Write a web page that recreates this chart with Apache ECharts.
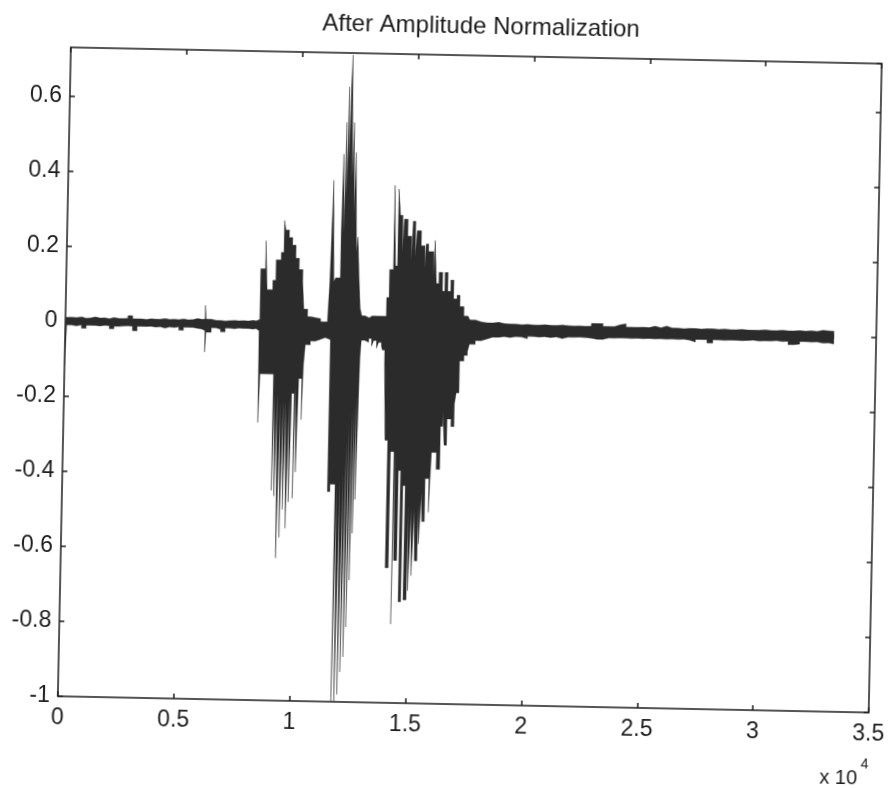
<!DOCTYPE html>
<html><head><meta charset="utf-8">
<script src="https://cdn.jsdelivr.net/npm/echarts@6/dist/echarts.min.js"></script>
<style>
html,body{margin:0;padding:0;background:#fff;overflow:hidden}
#chart{width:894px;height:788px;transform:rotate(1.15deg);transform-origin:50% 50%}
</style>
</head><body><div id="chart"></div>
<script>
// ---- data: sample index where each envelope column starts, and its max / min ----
const titleText = 'After Amplitude Normalization';
const xMin = 0, xMax = 35000, xStep = 5000, xExponent = 4;
const yMin = -1, yMax = 0.73, yStep = 0.2;
const signalLength = 33180;

const upperStart = [
  0,60,270,480,700,900,1100,1300,1500,1700,1900,2100,2300,2500,2700,2900,3100,3300,3500,3700,3900,
  4100,4300,4500,4700,4900,5100,5300,5500,5700,5900,6030,6075,6300,6500,6700,6900,7100,7300,7500,7700,7900,8100,
  8237,8387,8592,8677,8920,9048,9262,9373,9441,9590,9740,9889,10043,10205,10277,10444,10585,11011,
  11310,11378,11464,11549,11630,11827,11874,11950,11976,12036,12061,12121,12147,12189,12253,12309,12360,12411,
  12497,12556,12620,12663,12706,
  12783,12932,13103,13231,13316,13444,13530,13658,
  13700,13845,13948,14110,14195,14285,14370,14477,14545,14703,14874,14929,15036,15109,15288,15450,15506,15612,
  15834,15890,15975,16086,16240,16346,16474,16603,16731,16880,17008,17187,
  17371,17450,17700,17950,18200,18450,18700,18950,19200,19450,19700,19950,20200,20450,20700,20950,21200,21450,
  21700,21950,22200,22450,22700,22950,23200,23450,23700,23950,24200,24450,24700,24950,25200,25450,25700,25950,
  26200,26450,26700,26950,27200,27450,27700,27950,28200,28450,28700,28950,29200,29450,29700,29950,30200,30450,
  30700,30950,31200,31450,31700,31950,32200,32450,32700,32950
];
const upperVal = [
  .01,.011,.01,.012,.009,.01,.013,.01,.011,.009,.012,.01,.01,.011,.018,.01,.01,.009,.011,.01,.01,
  .012,.01,.011,.01,.012,.01,.011,.014,.012,.013,.05,.013,.01,.01,.009,.01,.011,.01,.011,.01,.012,.011,
  .015,.15,.225,.095,.12,.175,.195,.28,.255,.235,.215,.18,.15,.12,.045,.025,.02,.012,
  .02,.12,.39,.12,.13,.25,.46,.25,.545,.35,.64,.45,.64,.725,.40,.545,.30,.465,
  .20,.24,.15,.10,.05,
  .03,.025,.03,.025,.03,.028,.03,.035,
  .03,.08,.155,.38,.165,.37,.30,.20,.29,.245,.175,.285,.19,.26,.22,.16,.225,.205,
  .14,.235,.12,.15,.10,.15,.10,.13,.08,.09,.06,.035,
  .03,.025,.02,.018,.018,.02,.017,.016,.016,.015,.016,.015,.015,.016,.015,.015,.016,.015,
  .014,.015,.014,.015,.022,.022,.015,.015,.02,.023,.014,.014,.015,.014,.018,.014,.019,.014,
  .014,.013,.014,.014,.013,.014,.014,.013,.014,.013,.013,.014,.013,.013,.013,.014,.013,.013,
  .014,.013,.013,.014,.013,.014,.013,.016,.015,.014
];
const lowerStart = [
  0,60,270,480,700,900,1100,1300,1500,1700,1900,2100,2300,2500,2700,2900,3100,3300,3500,3700,3900,
  4100,4300,4500,4700,4900,5100,5300,5500,5700,5900,6030,6075,6300,6500,6700,6900,7100,7300,7500,7700,7900,8100,
  8237,8365,8387,8442,9027,9091,9142,9202,9270,9338,9398,9458,9518,9577,9654,9722,9765,9825,9936,9996,
  10051,10115,10252,10312,10371,10585,10798,11011,11225,
  11310,11451,11558,11780,11848,11908,11985,12031,12108,12142,12220,12258,12335,12360,12437,12463,12531,12556,
  12620,12646,12697,12740,
  12783,12932,13103,13231,13316,13444,13530,13658,
  13700,13807,13892,14012,14140,14294,14336,14368,14496,14597,14703,14808,14936,14991,15077,15128,15213,15264,
  15371,15420,15506,15550,15657,15822,15907,16125,16274,16368,16445,16551,16726,16854,16923,17042,17226,
  17371,17450,17700,17950,18200,18450,18700,18950,19200,19450,19700,19950,20200,20450,20700,20950,21200,21450,
  21700,21950,22200,22450,22700,22950,23200,23450,23700,23950,24200,24450,24700,24950,25200,25450,25700,25950,
  26200,26450,26700,26950,27200,27450,27700,27950,28200,28450,28700,28950,29200,29450,29700,29950,30200,30450,
  30700,30950,31200,31450,31700,31950,32200,32450,32700,32950
];
const lowerVal = [
  -.12,-.01,-.012,-.009,-.018,-.01,-.01,-.011,-.009,-.01,-.018,-.011,-.01,-.009,-.01,-.022,-.01,-.01,-.009,-.011,-.01,
  -.013,-.01,-.011,-.009,-.018,-.01,-.01,-.012,-.014,-.018,-.075,-.022,-.01,-.013,-.02,-.01,-.011,-.009,-.01,-.01,-.011,-.01,
  -.015,-.02,-.26,-.13,-.44,-.18,-.455,-.18,-.62,-.20,-.565,-.20,-.49,-.20,-.54,-.19,-.47,-.18,-.46,-.16,
  -.39,-.14,-.25,-.10,-.05,-.04,-.035,-.03,-.035,
  -.035,-.44,-.42,-1.0,-.42,-1.0,-.40,-.98,-.38,-.92,-.30,-.88,-.25,-.80,-.22,-.675,-.20,-.55,
  -.18,-.46,-.25,-.08,
  -.035,-.04,-.03,-.05,-.035,-.055,-.04,-.05,
  -.06,-.095,-.30,-.64,-.33,-.79,-.33,-.62,-.38,-.73,-.42,-.725,-.47,-.70,-.48,-.66,-.48,-.62,
  -.47,-.575,-.44,-.515,-.40,-.49,-.33,-.375,-.26,-.22,-.31,-.24,-.26,-.20,-.17,-.085,-.07,
  -.06,-.04,-.03,-.025,-.02,-.02,-.018,-.02,-.017,-.018,-.022,-.016,-.017,-.016,-.018,-.016,-.02,-.016,
  -.016,-.015,-.016,-.017,-.02,-.02,-.016,-.016,-.015,-.015,-.016,-.015,-.016,-.015,-.016,-.015,-.016,-.015,
  -.016,-.015,-.017,-.022,-.015,-.015,-.024,-.015,-.016,-.015,-.015,-.016,-.015,-.014,-.016,-.015,-.015,-.014,
  -.016,-.015,-.024,-.022,-.015,-.016,-.015,-.018,-.017,-.02
];

// ---- build series data (step envelopes) ----
function envelope(starts, vals) {
  const pts = starts.map((s, i) => [s, vals[i]]);
  pts.push([signalLength, vals[vals.length - 1]]);
  return pts;
}
const upperData = envelope(upperStart, upperVal);
const lowerData = envelope(lowerStart, lowerVal);

const ink = '#1c1c1c';
const waveColor = '#2b2b2b';
const font = "'Liberation Sans', Arial, sans-serif";

const chart = echarts.init(document.getElementById('chart'), null, {renderer: 'canvas'});
const xLabelFmt = v => String(+(v / Math.pow(10, xExponent)).toFixed(2));
const yLabelFmt = v => String(+v.toFixed(2));
const axisLine = {show: true, onZero: false, lineStyle: {color: ink, width: 1.5}};
const tick = {show: true, inside: true, length: 5, lineStyle: {color: ink, width: 1.5}};

chart.setOption({
  animation: false,
  backgroundColor: '#ffffff',
  title: {
    text: titleText, left: 310, top: 9,
    textStyle: {fontFamily: font, fontSize: 24, fontWeight: 'normal', color: ink}
  },
  grid: {left: 64, right: 12, top: 55, bottom: 84, containLabel: false},
  xAxis: [
    {type: 'value', position: 'bottom', min: xMin, max: xMax, interval: xStep,
     axisLine: axisLine, axisTick: tick, splitLine: {show: false},
     axisLabel: {formatter: xLabelFmt, margin: 10, fontFamily: font, fontSize: 23, color: ink}},
    {type: 'value', position: 'top', min: xMin, max: xMax, interval: xStep,
     axisLine: axisLine, axisTick: tick, splitLine: {show: false}, axisLabel: {show: false}}
  ],
  yAxis: [
    {type: 'value', position: 'left', min: yMin, max: yMax, interval: yStep,
     axisLine: axisLine, axisTick: tick, splitLine: {show: false},
     axisLabel: {formatter: yLabelFmt, showMaxLabel: false, margin: 8, fontFamily: font, fontSize: 23, color: ink}},
    {type: 'value', position: 'right', min: yMin, max: yMax, interval: yStep,
     axisLine: axisLine, axisTick: tick, splitLine: {show: false}, axisLabel: {show: false}}
  ],
  graphic: [
    {type: 'text', left: 827, top: 760, style: {text: 'x 10', fontFamily: font, fontSize: 20, fill: ink}},
    {type: 'text', left: 868, top: 749, style: {text: String(xExponent), fontFamily: font, fontSize: 14, fill: ink}}
  ],
  series: [
    {type: 'line', name: 'max', data: upperData, step: 'end', symbol: 'none', silent: true,
     xAxisIndex: 0, yAxisIndex: 0,
     lineStyle: {color: waveColor, width: 0.4},
     areaStyle: {color: waveColor, opacity: 1, origin: -0.005}},
    {type: 'line', name: 'min', data: lowerData, step: 'end', symbol: 'none', silent: true,
     xAxisIndex: 0, yAxisIndex: 0,
     lineStyle: {color: waveColor, width: 0.4},
     areaStyle: {color: waveColor, opacity: 1, origin: 0.005}}
  ]
});
</script>
</body></html>
